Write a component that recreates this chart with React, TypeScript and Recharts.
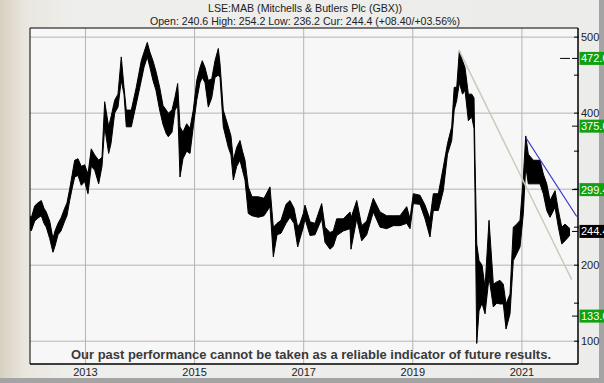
import React from 'react';
import {
  ComposedChart,
  Area,
  XAxis,
  YAxis,
  CartesianGrid,
  ReferenceLine,
  ReferenceArea
} from 'recharts';

const dates = [
  2011.983, 2012.006, 2012.069, 2012.129, 2012.19, 2012.239, 2012.281, 2012.344, 2012.404, 2012.441,
  2012.496, 2012.551, 2012.619, 2012.661, 2012.71, 2012.753, 2012.802, 2012.863, 2012.923, 2012.985,
  2013.046, 2013.106, 2013.169, 2013.242, 2013.303, 2013.352, 2013.425, 2013.468, 2013.535, 2013.596,
  2013.656, 2013.706, 2013.748, 2013.84, 2013.931, 2014.023, 2014.072, 2014.133, 2014.182, 2014.237,
  2014.292, 2014.36, 2014.421, 2014.481, 2014.518, 2014.586, 2014.641, 2014.69, 2014.732, 2014.787,
  2014.855, 2014.916, 2014.976, 2015.039, 2015.099, 2015.141, 2015.191, 2015.251, 2015.314, 2015.374,
  2015.435, 2015.466, 2015.526, 2015.618, 2015.667, 2015.71, 2015.772, 2015.832, 2015.878, 2015.924,
  2015.984, 2016.052, 2016.168, 2016.272, 2016.382, 2016.443, 2016.511, 2016.584, 2016.676, 2016.749,
  2016.822, 2016.89, 2016.932, 2016.993, 2017.024, 2017.116, 2017.207, 2017.33, 2017.391, 2017.482,
  2017.543, 2017.605, 2017.726, 2017.849, 2017.867, 2017.972, 2018.063, 2018.155, 2018.276, 2018.399,
  2018.522, 2018.643, 2018.765, 2018.888, 2018.949, 2019.009, 2019.132, 2019.224, 2019.315, 2019.376,
  2019.468, 2019.559, 2019.636, 2019.713, 2019.759, 2019.805, 2019.853, 2019.911, 2019.957, 2020.018,
  2020.08, 2020.122, 2020.14, 2020.172, 2020.214, 2020.269, 2020.324, 2020.397, 2020.476, 2020.538,
  2020.599, 2020.659, 2020.709, 2020.782, 2020.842, 2020.905, 2020.965, 2021.026, 2021.07, 2021.117,
  2021.209, 2021.332, 2021.392, 2021.455, 2021.515, 2021.607, 2021.668, 2021.73, 2021.79, 2021.851,
  2021.882
];

const lows = [
  248, 245, 258, 262, 265, 255, 250, 235, 217, 225,
  240, 245, 258, 265, 285, 300, 316, 318, 305, 310,
  294, 330, 325, 307, 330, 382, 347, 360, 400, 408,
  443, 425, 382, 382, 412, 443, 460, 474, 460, 443,
  430, 404, 385, 373, 369, 375, 404, 410, 316, 340,
  350, 347, 382, 417, 440, 447, 440, 408, 420, 447,
  450, 447, 382, 355, 345, 312, 330, 338, 325, 312,
  268, 265, 263, 265, 277, 211, 240, 242, 255, 263,
  255, 224, 235, 250, 261, 239, 240, 261, 230, 221,
  225, 239, 245, 248, 221, 261, 232, 240, 270, 250,
  248, 252, 252, 255, 248, 281, 280, 261, 237, 272,
  272, 298, 346, 364, 404, 417, 440, 425, 430, 390,
  395, 380, 294, 97, 140, 150, 136, 184, 145, 150,
  149, 149, 116, 136, 206, 215, 224, 268, 330, 307,
  307, 307, 294, 272, 263, 276, 250, 228, 232, 237,
  240
];

const highs = [
  265, 262, 278, 282, 285, 275, 270, 258, 235, 245,
  255, 262, 275, 282, 300, 318, 338, 340, 330, 332,
  320, 353, 345, 338, 342, 415, 382, 395, 417, 425,
  474, 434, 404, 404, 434, 469, 480, 493, 480, 469,
  455, 434, 410, 404, 400, 404, 421, 439, 382, 375,
  386, 380, 404, 443, 460, 469, 460, 443, 445, 469,
  485, 465, 404, 382, 370, 338, 355, 364, 350, 338,
  303, 290, 290, 288, 303, 250, 255, 259, 280, 285,
  275, 250, 255, 268, 279, 257, 255, 281, 250, 243,
  245, 261, 261, 270, 262, 285, 252, 258, 288, 270,
  265, 265, 265, 277, 261, 294, 292, 279, 261, 294,
  294, 329, 360, 382, 434, 434, 482, 469, 460, 425,
  425, 420, 340, 228, 206, 200, 171, 259, 175, 178,
  180, 175, 149, 162, 250, 254, 259, 316, 370, 346,
  338, 338, 320, 307, 285, 298, 272, 250, 254, 250,
  248
];

const yearTicks = [2013, 2015, 2017, 2019, 2021];
const priceTicks = [100, 150, 200, 250, 300, 350, 400, 450, 500];
const priceGrid = [100, 200, 300, 400, 500];

// support / resistance tags on the right edge
const levels = [472.0, 375.0, 299.4, 244.4, 133.0];
const levelKinds = ['target', 'target', 'target', 'current', 'target'];

// trend channel lines
const fallLine = [{ x: 2019.853, y: 482 }, { x: 2021.913, y: 181 }];
const resistLine = [{ x: 2021.07, y: 368 }, { x: 2022.005, y: 264 }];
const markLine = [{ x: 2021.7, y: 472 }, { x: 2021.88, y: 472 }];

const FONT = '"Liberation Sans", Arial, sans-serif';

const data = dates.map((t, i) => ({ t, range: [lows[i], highs[i]] }));

function PriceTick(props: any) {
  const { x, y, payload } = props;
  const v = payload.value;
  // a level tag sitting on top of a round number hides its label
  const covered = levels.some((l) => Math.abs(l - v) < 10);
  return (
    <g>
      <line x1={x - 4} x2={x + 1} y1={y} y2={y} stroke="#000" />
      {v % 100 === 0 && !covered && (
        <text x={x + 3} y={y + 4} fontSize={11} fill="#222" fontFamily={FONT}>
          {v}
        </text>
      )}
    </g>
  );
}

function LevelTag(props: any) {
  const { viewBox, value, kind, nudge } = props;
  if (!viewBox) return null;
  const x = viewBox.x + viewBox.width;
  const y = viewBox.y + (nudge || 0);
  const fill = kind === 'current' ? '#000' : '#11a011';
  return (
    <g>
      <line x1={x - 6} x2={x} y1={y} y2={y} stroke="#000" />
      <rect x={x + 1.5} y={y - 6.5} width={32} height={13} fill={fill} />
      <text x={x + 3} y={y + 4} fontSize={11} fill="#fff" fontFamily={FONT}>
        {value.toFixed(1)}
      </text>
    </g>
  );
}

export default function App() {
  return (
    <div
      style={{
        position: 'absolute',
        left: 0,
        top: 0,
        width: 604,
        height: 383,
        overflow: 'hidden',
        background: 'linear-gradient(90deg, #d8d1c0 0%, #e9e6de 4%, #eeeeec 12%, #ececea 100%)',
        boxShadow: 'inset -5px -5px 0 0 #a4a4a4'
      }}
    >
      <ComposedChart
        width={604}
        height={383}
        data={data}
        margin={{ top: 28, right: 0, bottom: 0, left: 30 }}
      >
        <CartesianGrid
          fill="#f7f7f7"
          stroke="#b4b4b4"
          horizontalValues={priceGrid}
          verticalValues={yearTicks}
        />
        <XAxis
          dataKey="t"
          type="number"
          domain={[2011.983, 2022.028]}
          allowDataOverflow
          ticks={yearTicks}
          height={19}
          tickLine={false}
          tickSize={0}
          tickMargin={4}
          axisLine={{ stroke: '#000' }}
          tick={{ fontSize: 11, fill: '#222', fontFamily: FONT }}
        />
        <YAxis
          orientation="right"
          type="number"
          domain={[70, 512]}
          allowDataOverflow
          ticks={priceTicks}
          width={26}
          tickLine={false}
          tickSize={0}
          tickMargin={0}
          axisLine={{ stroke: '#000' }}
          tick={<PriceTick />}
        />
        <ReferenceArea
          x1={2011.983}
          x2={2022.028}
          y1={70}
          y2={512}
          fill="none"
          stroke="#000"
          strokeOpacity={1}
          fillOpacity={0}
        />
        <Area
          dataKey="range"
          type="linear"
          stroke="#000"
          strokeWidth={1}
          fill="#000"
          fillOpacity={1}
          isAnimationActive={false}
          dot={false}
          activeDot={false}
        />
        <ReferenceLine segment={fallLine} stroke="#cfc9bb" strokeWidth={1.5} />
        <ReferenceLine segment={resistLine} stroke="#3434c8" strokeWidth={1.2} />
        <ReferenceLine segment={markLine} stroke="#000" strokeWidth={1} />
        {levels.map((v, i) => (
          <ReferenceLine
            key={v}
            y={v}
            stroke="none"
            label={<LevelTag value={v} kind={levelKinds[i]} nudge={v === 375 ? -6 : 0} />}
          />
        ))}
      </ComposedChart>
      <svg
        width={604}
        height={383}
        style={{ position: 'absolute', left: 0, top: 0, pointerEvents: 'none' }}
      >
        <text
          x={305}
          y={12}
          textAnchor="middle"
          fontSize={11}
          fill="#222"
          fontFamily={FONT}
          textLength={194}
          lengthAdjust="spacingAndGlyphs"
        >
          LSE:MAB (Mitchells &amp; Butlers Plc (GBX))
        </text>
        <text
          x={305}
          y={24.5}
          textAnchor="middle"
          fontSize={11}
          fill="#222"
          fontFamily={FONT}
          textLength={310}
          lengthAdjust="spacingAndGlyphs"
        >
          Open: 240.6 High: 254.2 Low: 236.2 Cur: 244.4 (+08.40/+03.56%)
        </text>
        <text
          x={311}
          y={358.5}
          textAnchor="middle"
          fontSize={12.5}
          fontWeight="bold"
          fill="#3a3a3a"
          fontFamily={FONT}
          textLength={480}
          lengthAdjust="spacingAndGlyphs"
        >
          Our past performance cannot be taken as a reliable indicator of future results.
        </text>
      </svg>
    </div>
  );
}
